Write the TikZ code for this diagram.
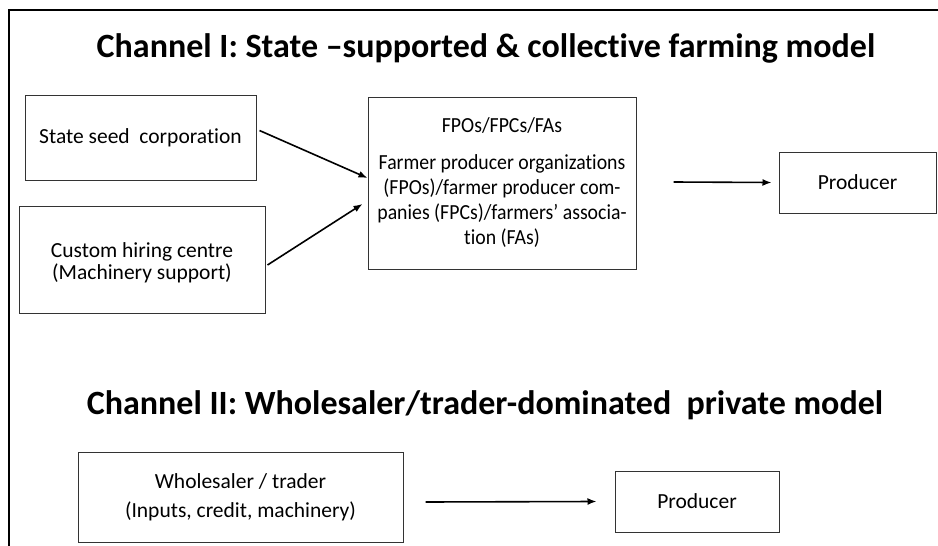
\documentclass[tikz,border=0pt]{standalone}
\usepackage{fontspec}
\setmainfont[Ligatures=NoCommon]{Carlito}
\newfontfamily\narrowfont[Ligatures=NoCommon,FakeStretch=0.92]{Carlito}
\usetikzlibrary{arrows.meta}
\tikzset{
  box/.style={draw=black!80, line width=1pt, rectangle, inner sep=0pt, align=center,
    font=\fontsize{21.5}{22}\selectfont},
  ttl/.style={font=\fontsize{34}{36}\selectfont\bfseries, inner sep=0pt},
  arr/.style={line width=1.6pt, -{Latex[length=9pt,width=7pt]}},
}
\begin{document}
\begin{tikzpicture}[x=1pt,y=-1pt]
\useasboundingbox (0,0) rectangle (938,546);
\draw[line width=1.5pt] (9,546) -- (9,10) -- (938,10);
\node[ttl] (t1) at (486,48) {Channel I: State --supported \& collective farming model};
\node[ttl] (t2) at (485,405) {Channel II: Wholesaler/trader-dominated\ \ private model};
\node[box, minimum width=231pt, minimum height=85pt] (ssc) at (140.5,137.5) {State seed~ corporation};
\node[box, minimum width=246pt, minimum height=107pt] (chc) at (142,259.5) {\\[0pt]Custom hiring centre\\(Machinery support)};
\node[box, minimum width=268pt, minimum height=172pt, font=\narrowfont\fontsize{21.5}{25}\selectfont] (fpo) at (502,183)
  {FPOs/FPCs/FAs\\[12pt]Farmer producer organizations\\(FPOs)/farmer producer com-\\panies (FPCs)/farmers\textquoteright{} associa-\\tion (FAs)};
\node[box, minimum width=157pt, minimum height=61pt] (p1) at (857.5,182.5) {Producer};
\node[box, minimum width=325pt, minimum height=90pt, font=\fontsize{21.5}{29}\selectfont] (ws) at (240.5,497) {Wholesaler / trader\\(Inputs, credit, machinery)};
\node[box, minimum width=164pt, minimum height=61pt] (p2) at (697,501.5) {Producer};
\draw[arr] ([xshift=3pt,yshift=7pt]ssc.east) -- ([yshift=5pt]fpo.west);
\draw[arr] ([xshift=2pt,yshift=-5.5pt]chc.east) -- ([xshift=-5pt,yshift=-21pt]fpo.west);
\draw[arr] ([xshift=37pt,yshift=1pt]fpo.east) -- ([xshift=-7pt]p1.west);
\draw[arr] ([xshift=22pt,yshift=-5pt]ws.east) -- ([xshift=-18pt]p2.west);
\end{tikzpicture}
\end{document}
